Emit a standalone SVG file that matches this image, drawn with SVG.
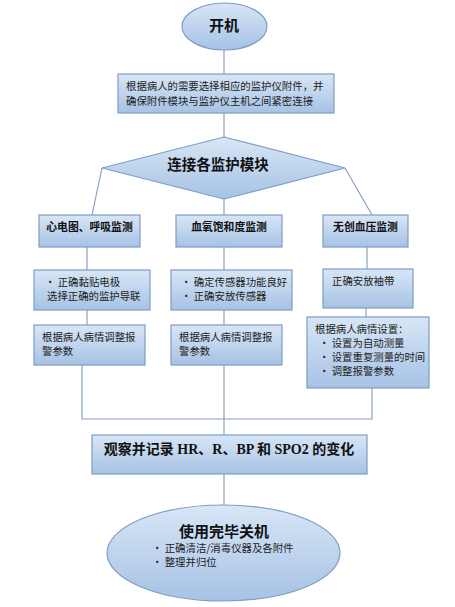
<svg xmlns="http://www.w3.org/2000/svg" width="455" height="607" viewBox="0 0 455 607">
<defs>
<linearGradient id="g" x1="0" y1="0" x2="0" y2="1">
<stop offset="0" stop-color="#d8e6f6"/>
<stop offset="1" stop-color="#a6c2e5"/>
</linearGradient>
</defs>
<style>
.n{fill:url(#g);stroke:#7f9cc4;stroke-width:1.2}
.c{fill:none;stroke:#8aa2c2;stroke-width:1.2}
.t{font-family:"Noto Sans CJK SC",sans-serif;font-size:10.4px;fill:#222}
.b{font-family:"Noto Sans CJK SC",sans-serif;font-size:10.8px;font-weight:bold;fill:#111}
.h{font-family:"Noto Sans CJK SC",sans-serif;font-size:14.5px;font-weight:bold;fill:#111}
.s{font-family:"Liberation Serif","Noto Sans CJK SC",serif;font-size:14px;font-weight:bold;fill:#111}
</style>
<rect width="455" height="607" fill="#fff"/>
<g id="connectors">
<path class="c" d="M224 50V74M224 113V137M102 168L92 215M345 168L372 215M224 199V215"/>
<path class="c" d="M87 247V270M87 310V325M224 247V270M224 310V325M367 247V269M366 308V317"/>
<path class="c" d="M82 365V419H372V388M224 365V435M224 474V505"/>
</g>
<g id="start"><ellipse class="n" cx="224.5" cy="26.5" rx="42.5" ry="23.5"/><text class="h" x="224" y="31" text-anchor="middle" style="font-size:15px">开机</text></g>
<g id="prepare"><rect class="n" x="118" y="74" width="216" height="39"/>
<text class="t" x="126" y="90">根据病人的需要选择相应的监护仪附件，并</text>
<text class="t" x="126" y="104.5">确保附件模块与监护仪主机之间紧密连接</text></g>
<g id="connect"><polygon class="n" points="224,137 345,168 224,199 102,168"/>
<text class="h" x="218" y="170" text-anchor="middle">连接各监护模块</text></g>
<g id="ecg"><rect class="n" x="39" y="215" width="101" height="32"/><text class="b" x="89.5" y="231" text-anchor="middle">心电图、呼吸监测</text></g>
<g id="spo2"><rect class="n" x="176" y="215" width="106" height="32"/><text class="b" x="229" y="231" text-anchor="middle">血氧饱和度监测</text></g>
<g id="nibp"><rect class="n" x="323" y="215" width="85" height="32"/><text class="b" x="365.5" y="231" text-anchor="middle">无创血压监测</text></g>
<g id="ecg2"><rect class="n" x="34" y="270" width="116" height="40"/>
<text class="t" x="45" y="286">· 正确黏贴电极</text><text class="t" x="47" y="300">选择正确的监护导联</text></g>
<g id="spo22"><rect class="n" x="171" y="270" width="121" height="40"/>
<text class="t" x="181" y="286">· 确定传感器功能良好</text><text class="t" x="181" y="300">· 正确安放传感器</text></g>
<g id="nibp2"><rect class="n" x="323" y="269" width="90" height="39"/>
<text class="t" x="332" y="285">正确安放袖带</text></g>
<g id="ecg3"><rect class="n" x="34" y="325" width="111" height="40"/>
<text class="t" x="42" y="341">根据病人病情调整报</text><text class="t" x="42" y="355">警参数</text></g>
<g id="spo23"><rect class="n" x="171" y="325" width="111" height="40"/>
<text class="t" x="179" y="341">根据病人病情调整报</text><text class="t" x="179" y="355">警参数</text></g>
<g id="nibp3"><rect class="n" x="307" y="317" width="122" height="71"/>
<text class="t" x="315" y="333">根据病人病情设置：</text>
<text class="t" x="319" y="347">· 设置为自动测量</text>
<text class="t" x="319" y="361">· 设置重复测量的时间</text>
<text class="t" x="319" y="375">· 调整报警参数</text></g>
<g id="observe"><rect class="n" x="92" y="435" width="275" height="39"/>
<text class="s" x="229" y="454" text-anchor="middle">观察并记录 HR、R、BP 和 SPO2 的变化</text></g>
<g id="end"><ellipse class="n" cx="223.5" cy="553" rx="116.5" ry="48"/>
<text class="h" x="224" y="537" text-anchor="middle" style="font-size:15px">使用完毕关机</text>
<text class="t" x="152" y="552">· 正确清洁/消毒仪器及各附件</text>
<text class="t" x="152" y="566">· 整理并归位</text></g>
</svg>
